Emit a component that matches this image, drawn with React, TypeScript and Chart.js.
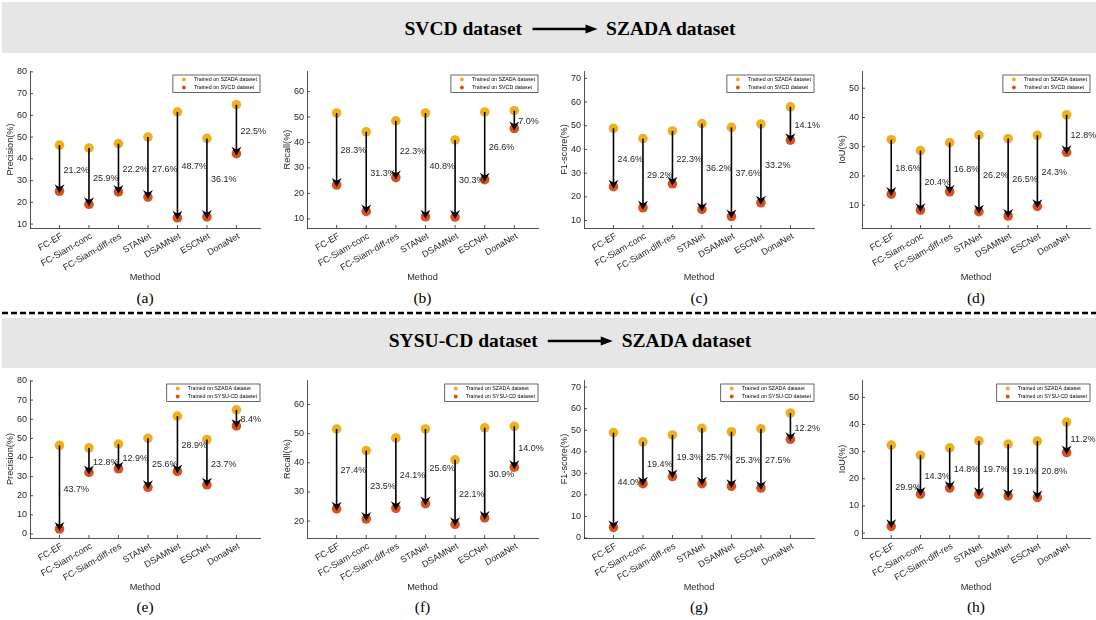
import React, { useEffect, useRef } from 'react';
import { Chart, registerables } from 'chart.js';

Chart.register(...registerables);

const methods = ['FC-EF', 'FC-Siam-conc', 'FC-Siam-diff-res', 'STANet', 'DSAMNet', 'ESCNet', 'DonaNet'];

// Trained on SZADA (shared by both rows)
const precisionSZADA = [46.3, 45.0, 47.0, 50.0, 61.6, 49.4, 64.9];
const recallSZADA = [51.6, 44.2, 48.5, 51.6, 41.0, 52.0, 52.5];
const f1SZADA = [48.9, 44.6, 47.8, 50.9, 49.3, 50.7, 58.0];
const iouSZADA = [32.4, 28.7, 31.4, 34.0, 32.8, 33.9, 40.9];

// Trained on SVCD
const precisionSVCD = [25.1, 19.1, 24.8, 22.4, 12.9, 13.3, 42.4];
const recallSVCD = [23.3, 12.9, 26.2, 10.8, 10.7, 25.4, 45.5];
const f1SVCD = [24.3, 15.4, 25.5, 14.7, 11.7, 17.5, 43.9];
const iouSVCD = [13.8, 8.3, 14.6, 7.8, 6.3, 9.6, 28.1];

const precisionSVCDDrop = ['21.2%', '25.9%', '22.2%', '27.6%', '48.7%', '36.1%', '22.5%'];
const recallSVCDDrop = ['28.3%', '31.3%', '22.3%', '40.8%', '30.3%', '26.6%', '7.0%'];
const f1SVCDDrop = ['24.6%', '29.2%', '22.3%', '36.2%', '37.6%', '33.2%', '14.1%'];
const iouSVCDDrop = ['18.6%', '20.4%', '16.8%', '26.2%', '26.5%', '24.3%', '12.8%'];

// Trained on SYSU-CD
const precisionSYSU = [2.6, 32.2, 34.1, 24.4, 32.7, 25.7, 56.5];
const recallSYSU = [24.2, 20.7, 24.4, 26.0, 18.9, 21.1, 38.5];
const f1SYSU = [4.9, 25.2, 28.5, 25.2, 24.0, 23.2, 45.8];
const iouSYSU = [2.5, 14.4, 16.6, 14.3, 13.7, 13.1, 29.7];

const precisionSYSUDrop = ['43.7%', '12.8%', '12.9%', '25.6%', '28.9%', '23.7%', '8.4%'];
const recallSYSUDrop = ['27.4%', '23.5%', '24.1%', '25.6%', '22.1%', '30.9%', '14.0%'];
const f1SYSUDrop = ['44.0%', '19.4%', '19.3%', '25.7%', '25.3%', '27.5%', '12.2%'];
const iouSYSUDrop = ['29.9%', '14.3%', '14.8%', '19.7%', '19.1%', '20.8%', '11.2%'];

// y-axis limits per panel
const yLimitsA = [8.2, 80.4];
const yLimitsB = [6.4, 68.1];
const yLimitsC = [6.85, 73.1];
const yLimitsD = [2.2, 55.9];
const yLimitsE = [-2.1, 80.5];
const yLimitsF = [14.2, 68.4];
const yLimitsG = [0, 73.3];
const yLimitsH = [-1.8, 56.4];

// y-axis tick values per panel
const yTicksA = [10, 20, 30, 40, 50, 60, 70, 80];
const yTicksB = [10, 20, 30, 40, 50, 60];
const yTicksC = [10, 20, 30, 40, 50, 60, 70];
const yTicksD = [10, 20, 30, 40, 50];
const yTicksE = [0, 10, 20, 30, 40, 50, 60, 70, 80];
const yTicksF = [20, 30, 40, 50, 60];
const yTicksG = [0, 10, 20, 30, 40, 50, 60, 70];
const yTicksH = [0, 10, 20, 30, 40, 50];

const xLimits = [0, 7.8];

const SZADA_LABEL = 'Trained on SZADA dataset';
const SVCD_LABEL = 'Trained on SVCD dataset';
const SYSU_LABEL = 'Trained on SYSU-CD dataset';

const COLOR_HIGH = '#EDB120';
const COLOR_LOW = '#D95319';
const AXIS = '#262626';
const SANS = '"Liberation Sans", Arial, Helvetica, sans-serif';
const SERIF = '"Liberation Serif", "Times New Roman", Times, serif';

// layout (pixels)
const COL_L = [30, 307, 584, 862];
const COL_R = [260, 538, 814, 1090];
const ROW_T = [71, 380];
const ROW_B = [228, 538];
const Y_AXIS_W = 30;
const X_AXIS_H = 55;
const PAD_TOP = 10;
const PAD_RIGHT = 8;

type PanelDef = {
  caption: string;
  yTitle: string;
  high: number[];
  low: number[];
  drops: string[];
  lowLabel: string;
  yLim: number[];
  yTicks: number[];
  col: number;
  row: number;
};

const panels: PanelDef[] = [
  { caption: '(a)', yTitle: 'Precision(%)', high: precisionSZADA, low: precisionSVCD, drops: precisionSVCDDrop, lowLabel: SVCD_LABEL, yLim: yLimitsA, yTicks: yTicksA, col: 0, row: 0 },
  { caption: '(b)', yTitle: 'Recall(%)', high: recallSZADA, low: recallSVCD, drops: recallSVCDDrop, lowLabel: SVCD_LABEL, yLim: yLimitsB, yTicks: yTicksB, col: 1, row: 0 },
  { caption: '(c)', yTitle: 'F1-score(%)', high: f1SZADA, low: f1SVCD, drops: f1SVCDDrop, lowLabel: SVCD_LABEL, yLim: yLimitsC, yTicks: yTicksC, col: 2, row: 0 },
  { caption: '(d)', yTitle: 'IoU(%)', high: iouSZADA, low: iouSVCD, drops: iouSVCDDrop, lowLabel: SVCD_LABEL, yLim: yLimitsD, yTicks: yTicksD, col: 3, row: 0 },
  { caption: '(e)', yTitle: 'Precision(%)', high: precisionSZADA, low: precisionSYSU, drops: precisionSYSUDrop, lowLabel: SYSU_LABEL, yLim: yLimitsE, yTicks: yTicksE, col: 0, row: 1 },
  { caption: '(f)', yTitle: 'Recall(%)', high: recallSZADA, low: recallSYSU, drops: recallSYSUDrop, lowLabel: SYSU_LABEL, yLim: yLimitsF, yTicks: yTicksF, col: 1, row: 1 },
  { caption: '(g)', yTitle: 'F1-score(%)', high: f1SZADA, low: f1SYSU, drops: f1SYSUDrop, lowLabel: SYSU_LABEL, yLim: yLimitsG, yTicks: yTicksG, col: 2, row: 1 },
  { caption: '(h)', yTitle: 'IoU(%)', high: iouSZADA, low: iouSYSU, drops: iouSYSUDrop, lowLabel: SYSU_LABEL, yLim: yLimitsH, yTicks: yTicksH, col: 3, row: 1 },
];

const dropPlugin = {
  id: 'drops',
  afterDatasetsDraw(chart: any, _args: any, opts: any) {
    const { ctx, chartArea } = chart;
    const x = chart.scales.x;
    const y = chart.scales.y;
    const hi = chart.data.datasets[0].data;
    const lo = chart.data.datasets[1].data;
    const labels: string[] = opts.labels || [];
    ctx.save();
    // inward tick marks
    ctx.strokeStyle = AXIS;
    ctx.lineWidth = 0.8;
    y.ticks.forEach((t: any) => {
      const py = y.getPixelForValue(t.value);
      ctx.beginPath();
      ctx.moveTo(chartArea.left, py);
      ctx.lineTo(chartArea.left + 3, py);
      ctx.stroke();
    });
    x.ticks.forEach((t: any) => {
      const px = x.getPixelForValue(t.value);
      ctx.beginPath();
      ctx.moveTo(px, chartArea.bottom);
      ctx.lineTo(px, chartArea.bottom - 3);
      ctx.stroke();
    });
    // arrows
    for (let i = 0; i < hi.length; i++) {
      const px = x.getPixelForValue(hi[i].x);
      const p1 = y.getPixelForValue(hi[i].y);
      const p2 = y.getPixelForValue(lo[i].y);
      const tip = p2 + 2;
      ctx.strokeStyle = '#000';
      ctx.lineWidth = 1.6;
      ctx.beginPath();
      ctx.moveTo(px, p1);
      ctx.lineTo(px, tip - 5);
      ctx.stroke();
      ctx.fillStyle = '#000';
      ctx.beginPath();
      ctx.moveTo(px, tip);
      ctx.lineTo(px - 5, tip - 9);
      ctx.lineTo(px, tip - 6);
      ctx.lineTo(px + 5, tip - 9);
      ctx.closePath();
      ctx.fill();
      // label
      ctx.fillStyle = AXIS;
      ctx.font = `9px ${SANS}`;
      ctx.textAlign = 'left';
      ctx.textBaseline = 'middle';
      ctx.fillText(labels[i], px + 4, (p1 + p2) / 2 + 2);
    }
    ctx.restore();
  },
  afterDraw(chart: any) {
    const { ctx, chartArea } = chart;
    const ds = chart.data.datasets;
    ctx.save();
    ctx.font = `5.3px ${SANS}`;
    const w = Math.max(...ds.map((d: any) => ctx.measureText(d.label).width)) + 24;
    const h = 17.5;
    const right = chartArea.right;
    const left = right - w;
    const top = chartArea.top + 4;
    ctx.fillStyle = '#fff';
    ctx.fillRect(left, top, w, h);
    ctx.strokeStyle = AXIS;
    ctx.lineWidth = 0.7;
    ctx.strokeRect(left, top, w, h);
    ds.forEach((d: any, k: number) => {
      const cy = top + 4.6 + k * 8;
      ctx.fillStyle = d.backgroundColor;
      ctx.beginPath();
      ctx.arc(left + 11, cy, 2, 0, Math.PI * 2);
      ctx.fill();
      ctx.fillStyle = '#000';
      ctx.textAlign = 'left';
      ctx.textBaseline = 'middle';
      ctx.fillText(d.label, left + 21, cy);
    });
    ctx.restore();
  },
};

function Panel({ p }: { p: PanelDef }) {
  const ref = useRef<HTMLCanvasElement>(null);
  const L = COL_L[p.col];
  const R = COL_R[p.col];
  const T = ROW_T[p.row];
  const B = ROW_B[p.row];
  const left = L - Y_AXIS_W;
  const top = T - PAD_TOP;
  const width = R - left + PAD_RIGHT;
  const height = B - top + X_AXIS_H;

  useEffect(() => {
    if (!ref.current) return;
    const tickFont = { family: SANS, size: 9 };
    const titleFont = { family: SANS, size: 9.2 };
    const chart = new Chart(ref.current, {
      type: 'scatter',
      data: {
        datasets: [
          {
            label: SZADA_LABEL,
            data: p.high.map((v, i) => ({ x: i + 1, y: v })),
            backgroundColor: COLOR_HIGH,
            borderWidth: 0,
            pointRadius: 4.8,
            pointHoverRadius: 4.8,
          },
          {
            label: p.lowLabel,
            data: p.low.map((v, i) => ({ x: i + 1, y: v })),
            backgroundColor: COLOR_LOW,
            borderWidth: 0,
            pointRadius: 4.8,
            pointHoverRadius: 4.8,
          },
        ],
      },
      options: {
        animation: false,
        responsive: false,
        events: [],
        layout: { padding: { left: 0, top: PAD_TOP, right: PAD_RIGHT, bottom: 0 } },
        plugins: {
          legend: { display: false },
          tooltip: { enabled: false },
          drops: { labels: p.drops },
        } as any,
        scales: {
          x: {
            type: 'linear',
            min: xLimits[0],
            max: xLimits[1],
            bounds: 'data',
            afterBuildTicks: (s: any) => {
              s.ticks = methods.map((_, i) => ({ value: i + 1 }));
            },
            afterFit: (s: any) => {
              s.height = X_AXIS_H;
            },
            ticks: {
              autoSkip: false,
              minRotation: 30,
              maxRotation: 30,
              padding: 3,
              labelOffset: 2.5,
              font: tickFont,
              color: AXIS,
              callback: (v: any) => methods[Math.round(Number(v)) - 1] ?? '',
            },
            grid: { display: false, drawTicks: false },
            border: { display: true, color: AXIS, width: 0.8 },
            title: { display: true, text: 'Method', font: titleFont, color: AXIS, padding: 0 },
          },
          y: {
            type: 'linear',
            min: p.yLim[0],
            max: p.yLim[1],
            bounds: 'data',
            afterBuildTicks: (s: any) => {
              s.ticks = p.yTicks.map((v) => ({ value: v }));
            },
            afterFit: (s: any) => {
              s.width = Y_AXIS_W;
            },
            ticks: {
              autoSkip: false,
              padding: 3,
              font: tickFont,
              color: AXIS,
              callback: (v: any) => String(v),
            },
            grid: { display: false, drawTicks: false },
            border: { display: true, color: AXIS, width: 0.8 },
            title: { display: true, text: p.yTitle, font: titleFont, color: AXIS, padding: { top: 4.5, bottom: 0 } },
          },
        },
      } as any,
      plugins: [dropPlugin as any],
    });
    return () => chart.destroy();
  }, []);

  return (
    <>
      <canvas
        ref={ref}
        width={width}
        height={height}
        style={{ position: 'absolute', left, top, width, height }}
      />
      <div
        style={{
          position: 'absolute',
          left: (L + R) / 2 - 30,
          top: (p.row === 0 ? 299 : 608) - 10,
          width: 60,
          height: 20,
          lineHeight: '20px',
          textAlign: 'center',
          font: `15.5px ${SERIF}`,
          color: '#000',
        }}
      >
        {p.caption}
      </div>
    </>
  );
}

function HeaderArrow() {
  return (
    <svg width={84} height={14} style={{ display: 'block', flex: '0 0 auto' }}>
      <line x1={10} y1={7} x2={68} y2={7} stroke="#000" strokeWidth={2.3} />
      <polygon points="75,7 63,2.5 63,11.5" fill="#000" />
    </svg>
  );
}

function Banner({ top, height, from, to, textY }: { top: number; height: number; from: string; to: string; textY: number }) {
  return (
    <>
      <div style={{ position: 'absolute', left: 2, top, width: 1094, height, background: '#E6E6E6' }} />
      <div
        style={{
          position: 'absolute',
          left: 570,
          top: textY,
          transform: 'translate(-50%, -50%)',
          display: 'flex',
          alignItems: 'center',
          whiteSpace: 'nowrap',
          font: `bold 19.5px ${SERIF}`,
          color: '#000',
          lineHeight: '24px',
        }}
      >
        <span>{from}</span>
        <HeaderArrow />
        <span>{to}</span>
      </div>
    </>
  );
}

export default function App() {
  return (
    <div
      style={{
        position: 'absolute',
        left: 0,
        top: 0,
        width: 1096,
        height: 620,
        overflow: 'hidden',
        background: '#fff',
      }}
    >
      <Banner top={2} height={51} from="SVCD dataset" to="SZADA dataset" textY={29} />
      <svg width={1096} height={6} style={{ position: 'absolute', left: 0, top: 310 }}>
        <line x1={2} y1={3} x2={1096} y2={3} stroke="#000" strokeWidth={2.5} strokeDasharray="6 3" />
      </svg>
      <Banner top={318} height={50} from="SYSU-CD dataset" to="SZADA dataset" textY={341} />
      {panels.map((p) => (
        <Panel key={p.caption} p={p} />
      ))}
    </div>
  );
}
